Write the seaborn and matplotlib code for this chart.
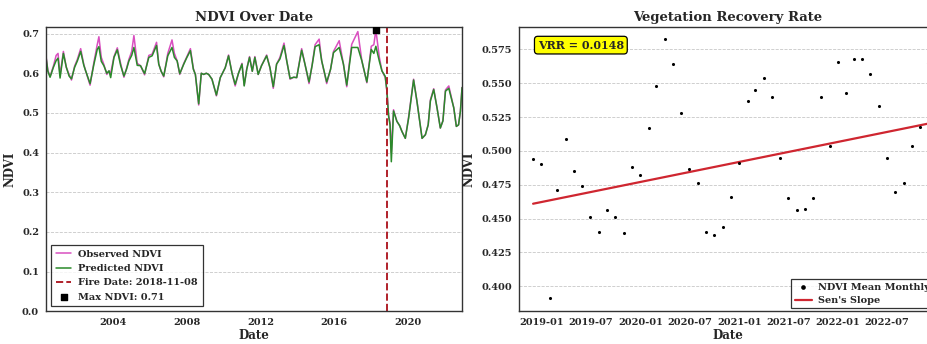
import numpy as np
import pandas as pd
import matplotlib
matplotlib.use("Agg")
import matplotlib.pyplot as plt
import matplotlib.dates as mdates
from matplotlib.ticker import MultipleLocator, FixedLocator, FormatStrFormatter
import seaborn as sns

# ---------------- data ----------------
# left panel: NDVI time series (decimal year, predicted, observed)
ts_year = [
    2000.35, 2000.45, 2000.57, 2000.75, 2000.90, 2001.00, 2001.11, 2001.29, 2001.45, 2001.60,
    2001.73, 2001.90, 2002.05, 2002.23, 2002.40, 2002.50, 2002.74, 2002.95, 2003.13, 2003.22,
    2003.35, 2003.49, 2003.65, 2003.77, 2003.86, 2004.04, 2004.22, 2004.40, 2004.58, 2004.72,
    2004.85, 2005.00, 2005.12, 2005.30, 2005.48, 2005.70, 2005.93, 2006.11, 2006.35, 2006.47,
    2006.60, 2006.74, 2006.96, 2007.19, 2007.32, 2007.47, 2007.61, 2007.83, 2008.00, 2008.19,
    2008.35, 2008.46, 2008.64, 2008.78, 2008.91, 2009.05, 2009.18, 2009.36, 2009.60, 2009.81,
    2010.08, 2010.26, 2010.45, 2010.62, 2010.80, 2010.99, 2011.11, 2011.25, 2011.40, 2011.55,
    2011.69, 2011.87, 2012.05, 2012.33, 2012.51, 2012.69, 2012.87, 2013.05, 2013.27, 2013.42,
    2013.60, 2013.80, 2013.96, 2014.23, 2014.41, 2014.63, 2014.80, 2014.96, 2015.18, 2015.32,
    2015.59, 2015.80, 2015.96, 2016.27, 2016.50, 2016.68, 2016.82, 2016.95, 2017.28, 2017.50,
    2017.77, 2018.01, 2018.15, 2018.26, 2018.45, 2018.59, 2018.77, 2018.86, 2018.95, 2019.03,
    2019.10, 2019.22, 2019.40, 2019.55, 2019.68, 2019.86, 2020.04, 2020.31, 2020.49, 2020.77,
    2020.95, 2021.10, 2021.22, 2021.40, 2021.58, 2021.76, 2021.90, 2022.04, 2022.22, 2022.49,
    2022.63, 2022.75, 2022.85, 2022.94,
]
ndvi_predicted = [
    0.640, 0.605, 0.590, 0.615, 0.632, 0.638, 0.588, 0.650, 0.615, 0.593,
    0.586, 0.615, 0.631, 0.655, 0.620, 0.606, 0.574, 0.623, 0.660, 0.667,
    0.630, 0.619, 0.600, 0.606, 0.589, 0.640, 0.659, 0.620, 0.593, 0.610,
    0.631, 0.645, 0.665, 0.620, 0.619, 0.599, 0.640, 0.644, 0.670, 0.623,
    0.605, 0.593, 0.644, 0.665, 0.640, 0.631, 0.599, 0.623, 0.640, 0.657,
    0.610, 0.597, 0.523, 0.600, 0.597, 0.600, 0.597, 0.585, 0.545, 0.589,
    0.614, 0.644, 0.600, 0.572, 0.600, 0.623, 0.568, 0.610, 0.640, 0.605,
    0.640, 0.597, 0.619, 0.644, 0.614, 0.566, 0.623, 0.636, 0.670, 0.631,
    0.587, 0.590, 0.589, 0.658, 0.623, 0.578, 0.620, 0.667, 0.672, 0.631,
    0.578, 0.610, 0.652, 0.665, 0.623, 0.570, 0.620, 0.665, 0.665, 0.631,
    0.578, 0.660, 0.650, 0.668, 0.630, 0.606, 0.592, 0.555, 0.492, 0.470,
    0.377, 0.505, 0.479, 0.468, 0.453, 0.436, 0.487, 0.583, 0.530, 0.436,
    0.445, 0.470, 0.530, 0.559, 0.513, 0.462, 0.480, 0.555, 0.562, 0.513,
    0.466, 0.470, 0.504, 0.564,
]
ndvi_observed = [
    0.643, 0.607, 0.592, 0.618, 0.645, 0.650, 0.595, 0.655, 0.615, 0.597,
    0.583, 0.618, 0.635, 0.662, 0.622, 0.606, 0.570, 0.628, 0.672, 0.692,
    0.640, 0.622, 0.597, 0.606, 0.600, 0.642, 0.664, 0.625, 0.590, 0.612,
    0.635, 0.655, 0.695, 0.625, 0.619, 0.596, 0.645, 0.648, 0.678, 0.623,
    0.605, 0.591, 0.650, 0.684, 0.650, 0.631, 0.597, 0.625, 0.642, 0.662,
    0.612, 0.597, 0.520, 0.600, 0.597, 0.600, 0.597, 0.585, 0.543, 0.589,
    0.614, 0.646, 0.600, 0.568, 0.600, 0.625, 0.570, 0.612, 0.642, 0.605,
    0.642, 0.597, 0.619, 0.646, 0.614, 0.562, 0.623, 0.640, 0.676, 0.631,
    0.585, 0.590, 0.589, 0.662, 0.623, 0.574, 0.622, 0.672, 0.686, 0.631,
    0.574, 0.610, 0.655, 0.682, 0.623, 0.566, 0.625, 0.673, 0.705, 0.631,
    0.576, 0.668, 0.672, 0.709, 0.640, 0.606, 0.589, 0.555, 0.495, 0.475,
    0.400, 0.508, 0.479, 0.468, 0.453, 0.436, 0.490, 0.585, 0.530, 0.436,
    0.445, 0.470, 0.533, 0.561, 0.513, 0.462, 0.480, 0.558, 0.568, 0.513,
    0.466, 0.470, 0.504, 0.564,
]
fire_date = "2018-11-08"

# right panel: monthly mean NDVI after the fire
monthly_start = "2018-12-01"
ndvi_monthly = [
    0.494,
    0.490, 0.391, 0.471, 0.509, 0.485, 0.474, 0.451, 0.440, 0.456, 0.451, 0.439, 0.488,
    0.482, 0.517, 0.548, 0.583, 0.564, 0.528, 0.487, 0.476, 0.440, 0.438, 0.444, 0.466,
    0.491, 0.537, 0.545, 0.554, 0.540, 0.495, 0.465, 0.456, 0.457, 0.465, 0.540, 0.504,
    0.566, 0.543, 0.568, 0.568, 0.557, 0.533, 0.495, 0.470, 0.476, 0.504, 0.518, 0.565,
]
vrr = 0.0148          # Sen's slope, NDVI per year
sen_start_value = 0.461

# ---------------- helpers ----------------
def dec_to_date(y):
    yi = int(y)
    return pd.Timestamp(yi, 1, 1) + pd.Timedelta(days=(y - yi) * 365.25)

dates = [dec_to_date(y) for y in ts_year]
df_ts = pd.DataFrame({"Date": dates, "Observed": ndvi_observed, "Predicted": ndvi_predicted})

mdates_idx = pd.date_range(monthly_start, periods=len(ndvi_monthly), freq="MS")
df_m = pd.DataFrame({"Date": mdates_idx, "NDVI": ndvi_monthly})
years_since = (df_m["Date"] - df_m["Date"].iloc[0]).dt.days / 365.25
df_m["Sen"] = sen_start_value + vrr * years_since

# ---------------- style ----------------
sns.set_theme(style="white")
plt.rcParams["font.family"] = ["DejaVu Serif"]
plt.rcParams["font.weight"] = "bold"
plt.rcParams["axes.labelweight"] = "bold"
plt.rcParams["axes.titleweight"] = "bold"
plt.rcParams["axes.edgecolor"] = "#333333"
plt.rcParams["axes.linewidth"] = 1.0

fig = plt.figure(figsize=(9.28, 3.44), dpi=100)
ax1 = fig.add_axes([0.0496, 0.095, 0.4483, 0.827])
ax2 = fig.add_axes([0.5593, 0.095, 0.4494, 0.827])

pink = "#d94fc0"
green = "#2a8a2a"
grid_kw = dict(color="#c8c8c8", linestyle="--", linewidth=0.6)

# ---------------- left ----------------
sns.lineplot(data=df_ts, x="Date", y="Observed", ax=ax1, color=pink, lw=1.1,
             label="Observed NDVI")
sns.lineplot(data=df_ts, x="Date", y="Predicted", ax=ax1, color=green, lw=1.1,
             marker="o", markersize=1.3, markerfacecolor="#1a1a1a",
             markeredgecolor="#1a1a1a", label="Predicted NDVI")
ax1.axvline(pd.Timestamp(fire_date), color="#b0202a", ls="--", lw=1.4,
            label=f"Fire Date: {fire_date}")
imax = int(np.argmax(ndvi_observed))
ax1.scatter([dates[imax]], [ndvi_observed[imax]], marker="s", color="black", s=18,
            zorder=6, label=f"Max NDVI: {ndvi_observed[imax]:.2f}")

ax1.set_xlim(dates[0], dates[-1])
ax1.set_ylim(0, 0.717)
ax1.yaxis.set_major_locator(MultipleLocator(0.1))
ax1.yaxis.set_major_formatter(FormatStrFormatter("%.1f"))
ax1.xaxis.set_major_locator(mdates.YearLocator(4))
ax1.xaxis.set_major_formatter(mdates.DateFormatter("%Y"))
ax1.xaxis.set_minor_locator(FixedLocator(mdates.date2num(
    [pd.Timestamp("2004-01-01"), pd.Timestamp("2012-01-01"), pd.Timestamp("2020-01-01")])))
ax1.grid(False)
ax1.grid(axis="y", which="major", **grid_kw)
ax1.grid(axis="x", which="minor", **grid_kw)
ax1.set_title("NDVI Over Date", fontsize=9.5, pad=4)
ax1.set_xlabel("Date", fontsize=8.5, labelpad=1)
ax1.set_ylabel("NDVI", fontsize=8.5, labelpad=4)
ax1.tick_params(axis="both", which="major", labelsize=7, length=3, width=0.8, pad=2)
ax1.tick_params(axis="x", which="minor", length=0)
handles, labels = ax1.get_legend_handles_labels()
for h in handles:
    if hasattr(h, "set_marker") and h.get_label() == "Predicted NDVI":
        h.set_marker("")
leg1 = ax1.legend(handles, labels, loc="lower left", fontsize=7, frameon=True,
                  fancybox=False, edgecolor="black", borderpad=0.5, labelspacing=0.55,
                  handlelength=1.6, handletextpad=0.7)
leg1.get_frame().set_linewidth(0.9)

# ---------------- right ----------------
sns.scatterplot(data=df_m, x="Date", y="NDVI", ax=ax2, color="black", s=5,
                edgecolor="black", linewidth=0, label="NDVI Mean Monthly", zorder=4)
sns.lineplot(data=df_m, x="Date", y="Sen", ax=ax2, color="#cf2630", lw=1.6,
             label="Sen's Slope", zorder=3)
ax2.set_xlim(pd.Timestamp("2018-10-10"), pd.Timestamp("2022-12-30"))
ax2.set_ylim(0.3815, 0.5917)
ax2.yaxis.set_major_locator(MultipleLocator(0.025))
ax2.yaxis.set_major_formatter(FormatStrFormatter("%.3f"))
ax2.xaxis.set_major_locator(mdates.MonthLocator(bymonth=[1, 7]))
ax2.xaxis.set_major_formatter(mdates.DateFormatter("%Y-%m"))
ax2.xaxis.set_minor_locator(FixedLocator(mdates.date2num([pd.Timestamp(d) for d in
    ["2019-01-01", "2020-01-01", "2020-07-01", "2021-07-01", "2022-01-01", "2022-07-01"]])))
ax2.grid(False)
ax2.grid(axis="y", which="major", **grid_kw)
ax2.grid(axis="x", which="minor", **grid_kw)
ax2.set_title("Vegetation Recovery Rate", fontsize=9.5, pad=4)
ax2.set_xlabel("Date", fontsize=8.5, labelpad=1)
ax2.set_ylabel("NDVI", fontsize=8.5, labelpad=4)
ax2.tick_params(axis="both", which="major", labelsize=7, length=3, width=0.8, pad=2)
ax2.tick_params(axis="x", which="minor", length=0)
ax2.text(0.045, 0.955, f"VRR = {vrr:.4f}", transform=ax2.transAxes, fontsize=8,
         fontweight="bold", va="top", ha="left",
         bbox=dict(boxstyle="round,pad=0.3", fc="yellow", ec="black", lw=0.9))
leg2 = ax2.legend(loc="lower right", fontsize=7, frameon=True, fancybox=False,
                  edgecolor="black", borderpad=0.35, labelspacing=0.45, markerscale=1.5,
                  handlelength=1.8, handletextpad=0.6, borderaxespad=0.3)
leg2.get_frame().set_linewidth(0.9)

fig.savefig("out.png", dpi=100)
